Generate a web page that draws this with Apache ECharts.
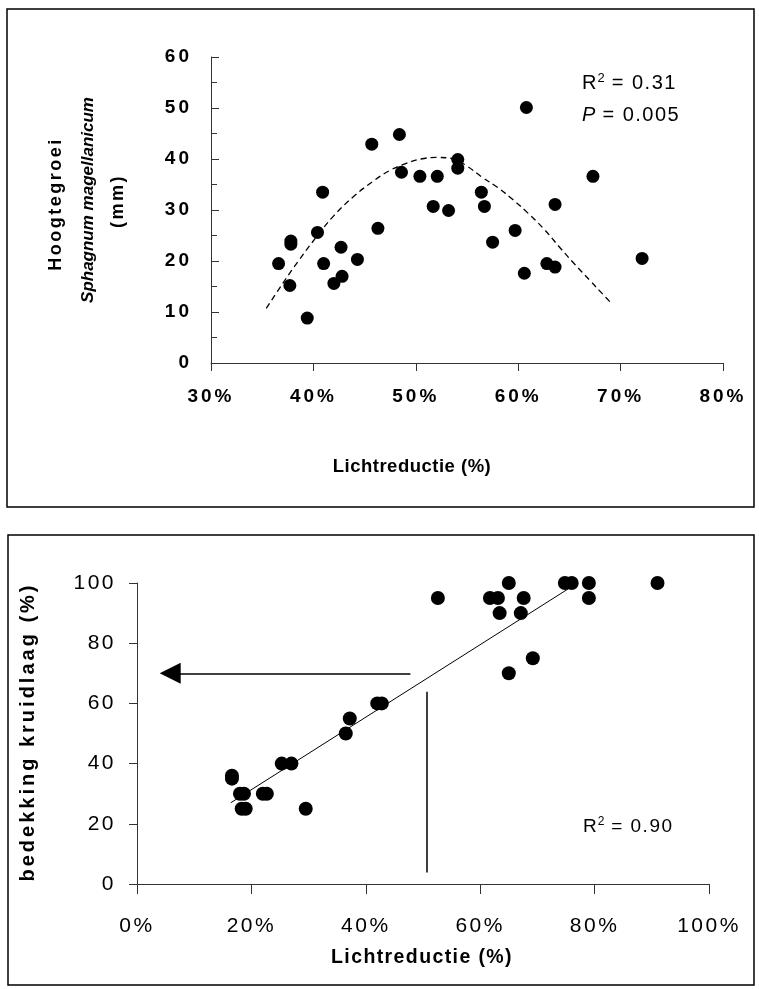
<!DOCTYPE html>
<html><head><meta charset="utf-8">
<script src="https://cdn.jsdelivr.net/npm/echarts@6/dist/echarts.min.js"></script>
<style>html,body{margin:0;padding:0;background:#fff}#c{width:759px;height:989px}</style>
</head><body><div id="c"></div>
<script>
// ---- Top chart data: Lichtreductie (%) vs Hoogtegroei (mm)
var topX = [60.8,48.4,45.7,54.1,54.1,48.6,50.4,52.1,67.3,40.9,56.4,63.6,51.7,56.7,53.2,46.3,40.4,59.7,57.5,37.8,37.8,42.7,36.6,41.0,44.3,72.1,62.8,63.6,60.6,42.8,42.0,37.7,39.4];
var topY = [50.1,44.8,42.9,39.9,38.2,37.4,36.6,36.6,36.6,33.5,33.5,31.1,30.7,30.7,29.9,26.4,25.6,26.0,23.7,23.3,23.9,22.7,19.5,19.5,20.3,20.5,19.5,18.8,17.6,17.0,15.6,15.2,8.8];
// dashed fitted curve
var curveX = [35.4,37.0,38.5,40.4,42.0,43.9,45.8,47.5,49.0,50.5,52.0,53.5,55.0,56.5,58.0,59.5,61.0,62.5,64.0,65.5,67.0,68.3,69.2];
var curveY = [10.7,15.6,19.9,25.0,28.9,32.6,35.6,37.8,39.1,40.0,40.3,40.1,38.6,36.4,34.4,32.0,29.3,26.3,22.8,19.4,16.2,13.4,11.5];
var topXTicks = [30,40,50,60,70,80];
var topYTicks = [0,10,20,30,40,50,60];

// ---- Bottom chart data: Lichtreductie (%) vs bedekking kruidlaag (%)
var botX = [52.6,65.0,61.7,63.1,67.6,63.4,67.1,74.8,76.0,79.0,79.0,91.0,69.2,65.0,42.0,42.8,37.2,36.5,25.3,27.0,16.6,16.6,18.0,18.7,22.0,22.7,18.3,19.0,29.5];
var botY = [95,100,95,95,95,90,90,100,100,100,95,100,75,70,60,60,55,50,40,40,35,36,30,30,30,30,25,25,25];
var trendX = [16.4,77.0];
var trendY = [27,100];
var arrowFrom = [47.8,70];
var arrowTo = [5.8,70];
var vlineX = [50.6,50.6];
var vlineY = [3.8,63.9];
var botXTicks = [0,20,40,60,80,100];
var botYTicks = [0,20,40,60,80,100];

function pairs(xs, ys){ return xs.map(function(x,i){ return [x, ys[i]]; }); }

// letter spacing, as in the original figure (chosen by font style)
(function(){
  var P = CanvasRenderingContext2D.prototype;
  if (!('letterSpacing' in P)) return;
  var orig = P.fillText;
  function sp(font){
    var m = /([\d.]+)px/.exec(font); var size = m ? parseFloat(m[1]) : 0;
    var bold = /bold|700/.test(font), ital = /italic/.test(font);
    if (bold && ital) return 0;
    if (bold && size === 19) return 3;
    if (bold && size === 18.5) return 0.5;
    if (bold && size === 18) return 2.5;
    if (bold && size === 20) return 3;
    if (bold && size === 19.5) return 1.4;
    if (!bold && size === 21) return 2.5;
    if (!bold && (size === 20 || size === 19)) return 1.5;
    return 0;
  }
  P.fillText = function(t, x, y, w){
    var prev = this.letterSpacing;
    this.letterSpacing = sp(this.font) + 'px';
    var r = (w === undefined) ? orig.call(this, t, x, y) : orig.call(this, t, x, y, w);
    this.letterSpacing = prev;
    return r;
  };
})();

var F = 'Liberation Sans, Arial, sans-serif';
var chart = echarts.init(document.getElementById('c'), null, {renderer:'canvas'});
var axisCol = '#333';
chart.setOption({
  animation:false,
  backgroundColor:'#fff',
  grid:[
    {left:211, top:57, width:512, height:306},
    {left:137, top:583, width:572, height:301}
  ],
  xAxis:[
    {gridIndex:0, type:'value', min:topXTicks[0], max:topXTicks[topXTicks.length-1], interval:10,
     axisLine:{show:true, onZero:false, lineStyle:{color:axisCol, width:1}},
     axisTick:{show:true, inside:false, length:8, lineStyle:{color:axisCol}},
     axisLabel:{margin:24, formatter:'{value}%', color:'#000', fontFamily:F, fontWeight:'bold', fontSize:19},
     splitLine:{show:false}},
    {gridIndex:1, type:'value', min:botXTicks[0], max:botXTicks[botXTicks.length-1], interval:20,
     axisLine:{show:true, onZero:false, lineStyle:{color:axisCol, width:1}},
     axisTick:{show:true, inside:false, length:10, lineStyle:{color:axisCol}},
     axisLabel:{margin:32, formatter:'{value}%', color:'#000', fontFamily:F, fontSize:21},
     splitLine:{show:false}}
  ],
  yAxis:[
    {gridIndex:0, type:'value', min:topYTicks[0], max:topYTicks[topYTicks.length-1], interval:10,
     axisLine:{show:true, onZero:false, lineStyle:{color:axisCol, width:1}},
     axisTick:{show:true, inside:true, length:8, lineStyle:{color:axisCol}},
     minorTick:{show:true, splitNumber:2, length:6, lineStyle:{color:axisCol}},
     axisLabel:{margin:19, color:'#000', fontFamily:F, fontWeight:'bold', fontSize:19},
     splitLine:{show:false}},
    {gridIndex:1, type:'value', min:botYTicks[0], max:botYTicks[botYTicks.length-1], interval:20,
     axisLine:{show:true, onZero:false, lineStyle:{color:axisCol, width:1}},
     axisTick:{show:true, inside:false, length:8, lineStyle:{color:axisCol}},
     axisLabel:{margin:21, color:'#000', fontFamily:F, fontSize:21},
     splitLine:{show:false}}
  ],
  series:[
    {type:'line', xAxisIndex:0, yAxisIndex:0, data:pairs(curveX,curveY), smooth:0.4, symbol:'none',
     lineStyle:{color:'#000', width:1.3, type:[6,4]}, z:2},
    {type:'scatter', xAxisIndex:0, yAxisIndex:0, data:pairs(topX,topY), symbol:'circle', symbolSize:13,
     itemStyle:{color:'#000', opacity:1}, z:3},
    {type:'line', xAxisIndex:1, yAxisIndex:1, data:pairs(trendX,trendY), symbol:'none',
     lineStyle:{color:'#000', width:1}, z:2,
     markLine:{silent:true, animation:false, label:{show:false},
       data:[
         [{coord:arrowFrom, symbol:'none'},{coord:arrowTo, symbol:'triangle', symbolSize:[21,21]}],
         [{coord:[vlineX[0],vlineY[0]], symbol:'none'},{coord:[vlineX[1],vlineY[1]], symbol:'none'}]
       ],
       lineStyle:{color:'#000', width:1.5, type:'solid'}, itemStyle:{color:'#000'}}},
    {type:'scatter', xAxisIndex:1, yAxisIndex:1, data:pairs(botX,botY), symbol:'circle', symbolSize:14,
     itemStyle:{color:'#000', opacity:1}, z:3}
  ],
  graphic:[
    {type:'rect', shape:{x:7, y:9, width:747, height:498}, style:{fill:null, stroke:'#000', lineWidth:1.5}, silent:true},
    {type:'rect', shape:{x:8, y:535, width:746, height:450}, style:{fill:null, stroke:'#000', lineWidth:1.5}, silent:true},
    {type:'text', x:56, y:204, rotation:Math.PI/2, style:{text:'Hoogtegroei', font:'bold 18px '+F, fill:'#000', textAlign:'center', textVerticalAlign:'middle'}},
    {type:'text', x:88, y:200, rotation:Math.PI/2, style:{text:'Sphagnum magellanicum', font:'italic bold 17px '+F, fill:'#000', textAlign:'center', textVerticalAlign:'middle'}},
    {type:'text', x:118, y:201, rotation:Math.PI/2, style:{text:'(mm)', font:'bold 18px '+F, fill:'#000', textAlign:'center', textVerticalAlign:'middle'}},
    {type:'text', x:412, y:467, style:{text:'Lichtreductie (%)', font:'bold 18.5px '+F, fill:'#000', textAlign:'center', textVerticalAlign:'middle'}},
    {type:'text', x:582, y:83, style:{text:'{a|R}{s|2}{a| = 0.31}', textVerticalAlign:'middle',
      rich:{a:{font:'20px '+F, fill:'#000'}, s:{font:'13px '+F, fill:'#000', padding:[0,0,10,1]}}}},
    {type:'text', x:582, y:115, style:{text:'{i|P}{a| = 0.005}', textVerticalAlign:'middle',
      rich:{i:{font:'italic 20px '+F, fill:'#000'}, a:{font:'20px '+F, fill:'#000'}}}},
    {type:'text', x:28, y:732, rotation:Math.PI/2, style:{text:'bedekking kruidlaag (%)', font:'bold 20px '+F, fill:'#000', textAlign:'center', textVerticalAlign:'middle'}},
    {type:'text', x:422, y:958, style:{text:'Lichtreductie (%)', font:'bold 19.5px '+F, fill:'#000', textAlign:'center', textVerticalAlign:'middle'}},
    {type:'text', x:583, y:827, style:{text:'{a|R}{s|2}{a| = 0.90}', textVerticalAlign:'middle',
      rich:{a:{font:'19px '+F, fill:'#000'}, s:{font:'12px '+F, fill:'#000', padding:[0,0,10,1]}}}}
  ]
});
</script></body></html>
